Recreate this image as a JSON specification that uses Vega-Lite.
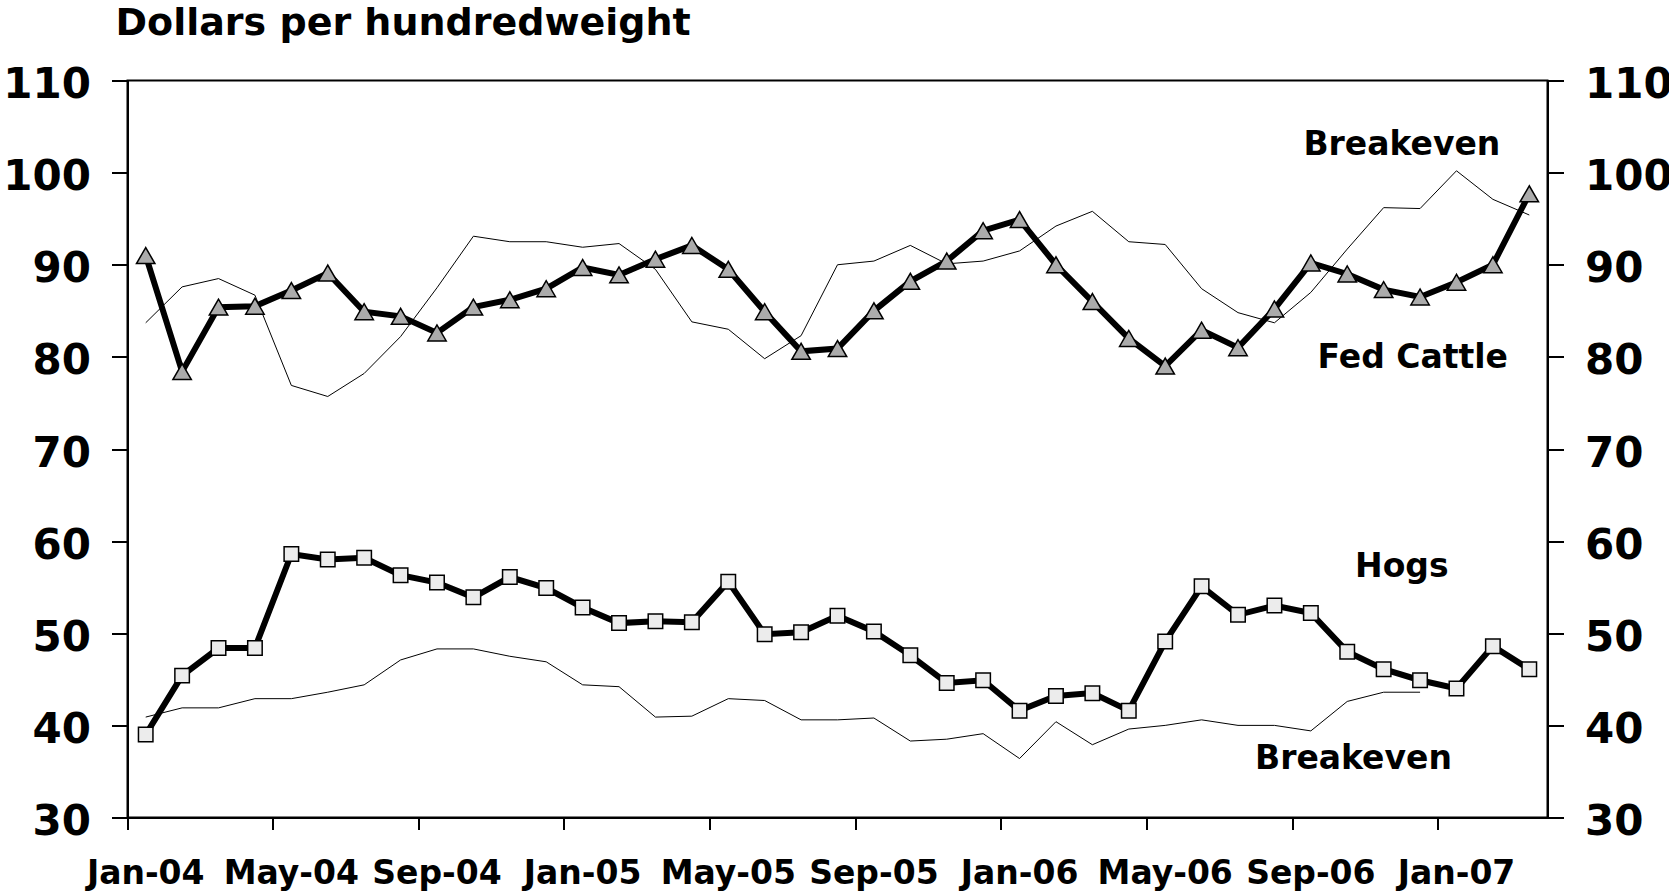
{
  "$schema": "https://vega.github.io/schema/vega-lite/v6.json",
  "width": 1420,
  "height": 737,
  "autosize": {"type": "none"},
  "padding": {"left": 127.5, "top": 80.5, "right": 121.5, "bottom": 75.5},
  "background": "white",
  "title": {"text": "Dollars per hundredweight", "anchor": "start", "frame": "group", "font": "DejaVu Sans", "fontWeight": "bold", "fontSize": 38, "color": "black", "dx": -12, "offset": -9, "baseline": "alphabetic"},
  "config": {
    "view": {"stroke": "black", "strokeWidth": 2},
    "axis": {"domainColor": "black", "domainWidth": 2, "tickColor": "black", "tickWidth": 2, "labelColor": "black", "labelFont": "DejaVu Sans", "labelFontWeight": "bold", "grid": false, "title": null}
  },
  "datasets": {
    "series": [
      {"month": "Jan-04", "cattle": 91.0, "cattle_be": 83.7, "hogs": 39.0, "hogs_be": 40.9},
      {"month": "Feb-04", "cattle": 78.4, "cattle_be": 87.6, "hogs": 45.4, "hogs_be": 41.9},
      {"month": "Mar-04", "cattle": 85.4, "cattle_be": 88.5, "hogs": 48.4, "hogs_be": 41.9},
      {"month": "Apr-04", "cattle": 85.5, "cattle_be": 86.7, "hogs": 48.4, "hogs_be": 42.9},
      {"month": "May-04", "cattle": 87.2, "cattle_be": 76.9, "hogs": 58.6, "hogs_be": 42.9},
      {"month": "Jun-04", "cattle": 89.1, "cattle_be": 75.7, "hogs": 58.0, "hogs_be": 43.6},
      {"month": "Jul-04", "cattle": 84.9, "cattle_be": 78.2, "hogs": 58.2, "hogs_be": 44.4},
      {"month": "Aug-04", "cattle": 84.4, "cattle_be": 82.2, "hogs": 56.3, "hogs_be": 47.1},
      {"month": "Sep-04", "cattle": 82.6, "cattle_be": 87.5, "hogs": 55.5, "hogs_be": 48.3},
      {"month": "Oct-04", "cattle": 85.4, "cattle_be": 93.1, "hogs": 53.9, "hogs_be": 48.3},
      {"month": "Nov-04", "cattle": 86.2, "cattle_be": 92.5, "hogs": 56.1, "hogs_be": 47.5},
      {"month": "Dec-04", "cattle": 87.4, "cattle_be": 92.5, "hogs": 54.9, "hogs_be": 46.9},
      {"month": "Jan-05", "cattle": 89.7, "cattle_be": 91.9, "hogs": 52.8, "hogs_be": 44.4},
      {"month": "Feb-05", "cattle": 88.9, "cattle_be": 92.3, "hogs": 51.1, "hogs_be": 44.2},
      {"month": "Mar-05", "cattle": 90.6, "cattle_be": 89.5, "hogs": 51.3, "hogs_be": 40.9},
      {"month": "Apr-05", "cattle": 92.1, "cattle_be": 83.8, "hogs": 51.2, "hogs_be": 41.0},
      {"month": "May-05", "cattle": 89.5, "cattle_be": 83.0, "hogs": 55.6, "hogs_be": 42.9},
      {"month": "Jun-05", "cattle": 84.9, "cattle_be": 79.8, "hogs": 49.9, "hogs_be": 42.7},
      {"month": "Jul-05", "cattle": 80.6, "cattle_be": 82.3, "hogs": 50.1, "hogs_be": 40.6},
      {"month": "Aug-05", "cattle": 80.9, "cattle_be": 90.0, "hogs": 51.9, "hogs_be": 40.6},
      {"month": "Sep-05", "cattle": 85.0, "cattle_be": 90.4, "hogs": 50.2, "hogs_be": 40.8},
      {"month": "Oct-05", "cattle": 88.2, "cattle_be": 92.1, "hogs": 47.6, "hogs_be": 38.3},
      {"month": "Nov-05", "cattle": 90.4, "cattle_be": 90.1, "hogs": 44.6, "hogs_be": 38.5},
      {"month": "Dec-05", "cattle": 93.7, "cattle_be": 90.4, "hogs": 44.9, "hogs_be": 39.1},
      {"month": "Jan-06", "cattle": 94.9, "cattle_be": 91.5, "hogs": 41.6, "hogs_be": 36.4},
      {"month": "Feb-06", "cattle": 90.0, "cattle_be": 94.2, "hogs": 43.2, "hogs_be": 40.4},
      {"month": "Mar-06", "cattle": 86.0, "cattle_be": 95.8, "hogs": 43.5, "hogs_be": 37.9},
      {"month": "Apr-06", "cattle": 82.0, "cattle_be": 92.5, "hogs": 41.6, "hogs_be": 39.6},
      {"month": "May-06", "cattle": 79.0, "cattle_be": 92.2, "hogs": 49.1, "hogs_be": 40.0},
      {"month": "Jun-06", "cattle": 82.9, "cattle_be": 87.4, "hogs": 55.1, "hogs_be": 40.6},
      {"month": "Jul-06", "cattle": 81.0, "cattle_be": 84.8, "hogs": 52.0, "hogs_be": 40.0},
      {"month": "Aug-06", "cattle": 85.2, "cattle_be": 83.7, "hogs": 53.0, "hogs_be": 40.0},
      {"month": "Sep-06", "cattle": 90.2, "cattle_be": 87.0, "hogs": 52.2, "hogs_be": 39.4},
      {"month": "Oct-06", "cattle": 89.0, "cattle_be": 91.7, "hogs": 48.0, "hogs_be": 42.6},
      {"month": "Nov-06", "cattle": 87.3, "cattle_be": 96.2, "hogs": 46.1, "hogs_be": 43.6},
      {"month": "Dec-06", "cattle": 86.5, "cattle_be": 96.1, "hogs": 44.9, "hogs_be": 43.6},
      {"month": "Jan-07", "cattle": 88.1, "cattle_be": 100.2, "hogs": 44.0, "hogs_be": null},
      {"month": "Feb-07", "cattle": 90.0, "cattle_be": 97.1, "hogs": 48.6, "hogs_be": null},
      {"month": "Mar-07", "cattle": 97.7, "cattle_be": 95.4, "hogs": 46.1, "hogs_be": null}
    ]
  },
  "data": {"name": "series"},
  "encoding": {
    "x": {
      "field": "month", "type": "ordinal", "bandPosition": 0.5,
      "scale": {"type": "band", "paddingInner": 0, "paddingOuter": 0,
        "domain": ["Jan-04","Feb-04","Mar-04","Apr-04","May-04","Jun-04","Jul-04","Aug-04","Sep-04","Oct-04","Nov-04","Dec-04","Jan-05","Feb-05","Mar-05","Apr-05","May-05","Jun-05","Jul-05","Aug-05","Sep-05","Oct-05","Nov-05","Dec-05","Jan-06","Feb-06","Mar-06","Apr-06","May-06","Jun-06","Jul-06","Aug-06","Sep-06","Oct-06","Nov-06","Dec-06","Jan-07","Feb-07","Mar-07"]},
      "axis": {"values": ["Jan-04","May-04","Sep-04","Jan-05","May-05","Sep-05","Jan-06","May-06","Sep-06","Jan-07"], "bandPosition": 0, "tickSize": 12, "labelFontSize": 33, "labelPadding": 28, "labelAngle": 0, "title": null}
    }
  },
  "layer": [
    {
      "mark": {"type": "line", "color": "black", "strokeWidth": 1},
      "encoding": {"y": {"field": "cattle_be", "type": "quantitative", "scale": {"domain": [30, 110], "nice": false, "zero": false},
        "axis": {"orient": "left", "values": [30,40,50,60,70,80,90,100,110], "tickSize": 16, "labelFontSize": 42, "labelPadding": 21, "labelOffset": 4, "title": null}}}
    },
    {
      "transform": [{"filter": "datum.hogs_be != null"}],
      "mark": {"type": "line", "color": "black", "strokeWidth": 1},
      "encoding": {"y": {"field": "hogs_be", "type": "quantitative",
        "axis": {"orient": "right", "values": [30,40,50,60,70,80,90,100,110], "tickSize": 16, "labelFontSize": 42, "labelPadding": 21, "labelOffset": 4, "title": null}}}
    },
    {
      "mark": {"type": "line", "color": "black", "strokeWidth": 6},
      "encoding": {"y": {"field": "cattle", "type": "quantitative", "axis": null}}
    },
    {
      "mark": {"type": "line", "color": "black", "strokeWidth": 6},
      "encoding": {"y": {"field": "hogs", "type": "quantitative", "axis": null}}
    },
    {
      "mark": {"type": "point", "shape": "triangle-up", "filled": true, "fill": "#ababab", "stroke": "black", "strokeWidth": 1.5, "size": 340, "opacity": 1},
      "encoding": {"y": {"field": "cattle", "type": "quantitative", "axis": null}}
    },
    {
      "mark": {"type": "point", "shape": "square", "filled": true, "fill": "#ececec", "stroke": "black", "strokeWidth": 1.5, "size": 210, "opacity": 1},
      "encoding": {"y": {"field": "hogs", "type": "quantitative", "axis": null}}
    },
    {
      "data": {"values": [{"month": "Dec-06", "value": 101.9, "label": "Breakeven"}, {"month": "Dec-06", "value": 56.1, "label": "Hogs"}]},
      "mark": {"type": "text", "font": "DejaVu Sans", "fontWeight": "bold", "fontSize": 33, "color": "black", "align": "center", "baseline": "alphabetic"},
      "encoding": {
        "x": {"field": "month", "type": "ordinal", "bandPosition": 0},
        "y": {"field": "value", "type": "quantitative", "axis": null},
        "text": {"field": "label"}
      }
    },
    {
      "data": {"values": [{"month": "Dec-06", "value": 78.8, "label": "Fed Cattle"}]},
      "mark": {"type": "text", "font": "DejaVu Sans", "fontWeight": "bold", "fontSize": 33, "color": "black", "align": "center", "baseline": "alphabetic"},
      "encoding": {
        "x": {"field": "month", "type": "ordinal", "bandPosition": 0.3},
        "y": {"field": "value", "type": "quantitative", "axis": null},
        "text": {"field": "label"}
      }
    },
    {
      "data": {"values": [{"month": "Oct-06", "value": 35.3, "label": "Breakeven"}]},
      "mark": {"type": "text", "font": "DejaVu Sans", "fontWeight": "bold", "fontSize": 33, "color": "black", "align": "center", "baseline": "alphabetic"},
      "encoding": {
        "x": {"field": "month", "type": "ordinal", "bandPosition": 0.67},
        "y": {"field": "value", "type": "quantitative", "axis": null},
        "text": {"field": "label"}
      }
    }
  ],
  "resolve": {"axis": {"y": "independent"}}
}
